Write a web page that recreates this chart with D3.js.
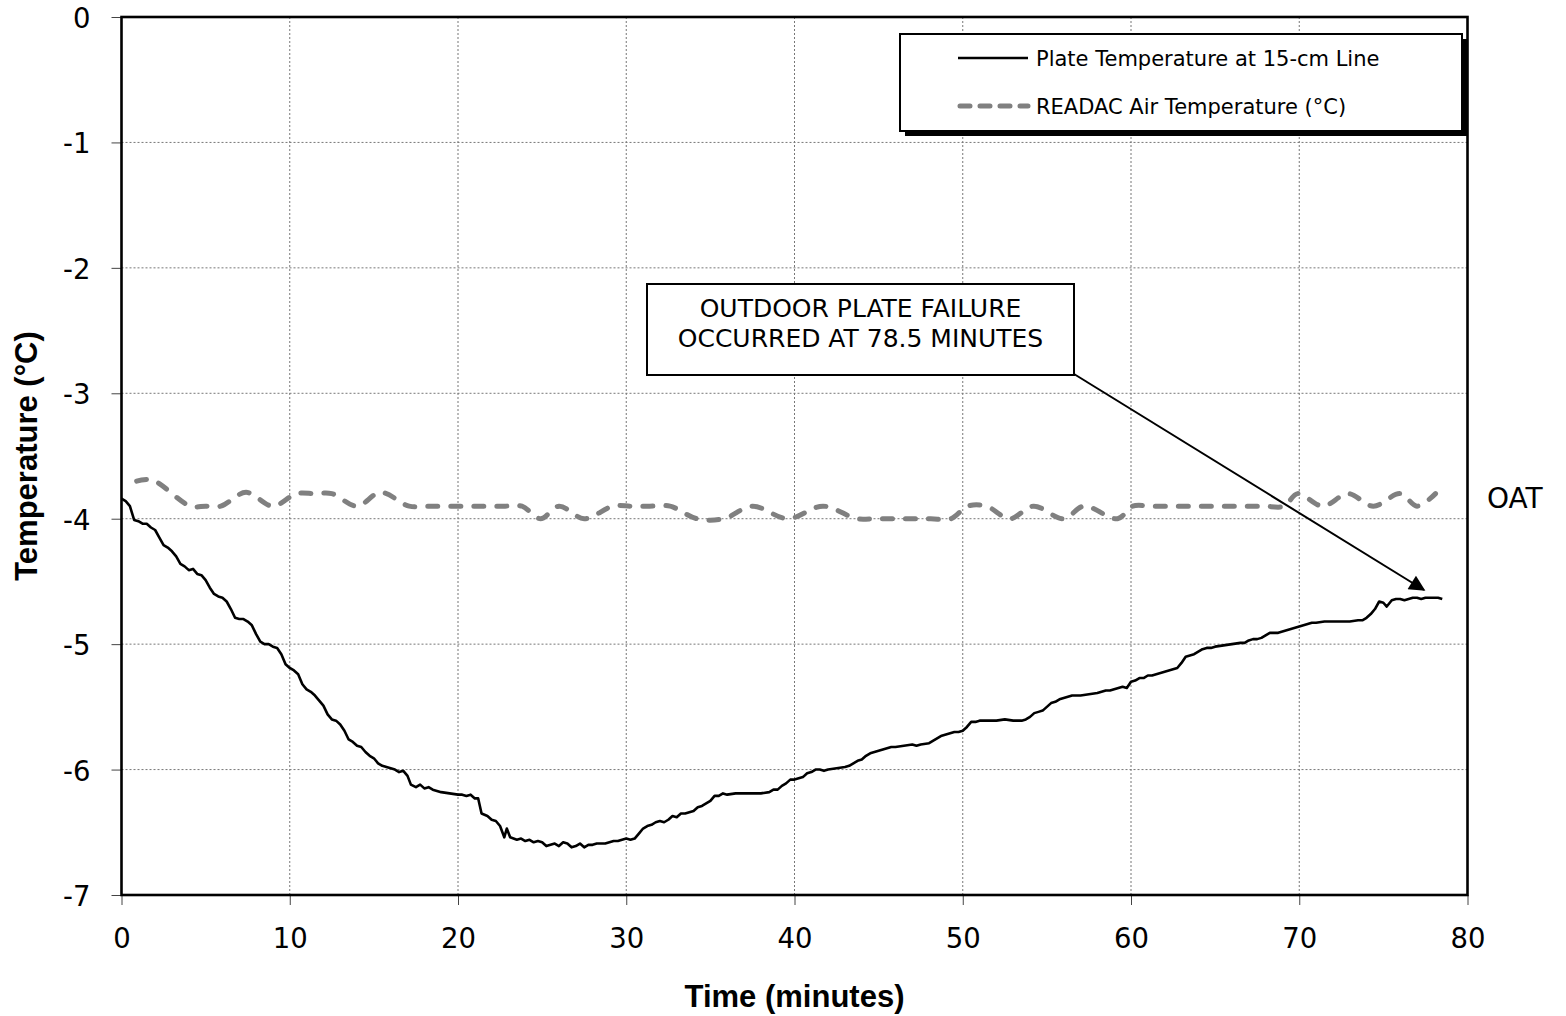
<!DOCTYPE html>
<html><head><meta charset="utf-8">
<script src="https://cdn.jsdelivr.net/npm/d3@7"></script>
<style>
html,body{margin:0;padding:0;background:#fff;}
svg{display:block;}
</style>
</head><body>
<svg id="chart" width="1566" height="1016"></svg>
<script>
// ---- data ----
const xTicks = [0, 10, 20, 30, 40, 50, 60, 70, 80];
const yTicks = [0, -1, -2, -3, -4, -5, -6, -7];
const seriesNames = ["Plate Temperature at 15-cm Line", "READAC Air Temperature (\u00B0C)"];
const annotationLines = ["OUTDOOR PLATE FAILURE", "OCCURRED AT 78.5 MINUTES"];
const sideLabel = "OAT";
const xTitle = "Time (minutes)";
const yTitle = "Temperature (\u00B0C)";

// plate temperature [minutes, degC]
const plateTemp = [
[0.0,-3.84],[0.25,-3.86],[0.5,-3.90],[0.75,-4.01],[1.0,-4.02],[1.25,-4.04],[1.5,-4.04],[1.75,-4.07],[2.0,-4.09],[2.25,-4.15],[2.5,-4.21],[2.75,-4.23],[3.0,-4.26],[3.25,-4.30],[3.5,-4.36],[3.75,-4.38],[4.0,-4.41],[4.25,-4.40],[4.5,-4.44],[4.75,-4.45],[5.0,-4.49],[5.25,-4.55],[5.5,-4.60],[5.75,-4.62],[6.0,-4.63],[6.25,-4.66],[6.5,-4.72],[6.75,-4.79],[7.0,-4.80],[7.25,-4.80],[7.5,-4.82],[7.75,-4.85],[8.0,-4.92],[8.25,-4.98],[8.5,-5.00],[8.75,-5.00],[9.0,-5.02],[9.25,-5.03],[9.5,-5.08],[9.75,-5.16],[10.0,-5.19],[10.25,-5.21],[10.5,-5.24],[10.75,-5.32],[11.0,-5.36],[11.25,-5.38],[11.5,-5.41],[11.75,-5.45],[12.0,-5.49],[12.25,-5.56],[12.5,-5.60],[12.75,-5.61],[13.0,-5.64],[13.25,-5.69],[13.5,-5.76],[13.75,-5.78],[14.0,-5.81],[14.25,-5.82],[14.5,-5.86],[14.75,-5.89],[15.0,-5.91],[15.25,-5.95],[15.5,-5.97],[15.75,-5.98],[16.0,-5.99],[16.25,-6.00],[16.5,-6.02],[16.75,-6.01],[17.0,-6.05],[17.2,-6.12],[17.5,-6.14],[17.75,-6.12],[18.0,-6.15],[18.25,-6.14],[18.5,-6.16],[18.75,-6.17],[19.0,-6.18],[19.5,-6.19],[20.0,-6.20],[20.25,-6.20],[20.5,-6.21],[20.75,-6.20],[21.0,-6.23],[21.2,-6.23],[21.4,-6.35],[21.75,-6.37],[22.0,-6.40],[22.25,-6.41],[22.5,-6.45],[22.75,-6.54],[22.9,-6.47],[23.1,-6.54],[23.5,-6.56],[23.75,-6.55],[24.0,-6.57],[24.25,-6.56],[24.5,-6.58],[24.75,-6.57],[25.0,-6.58],[25.25,-6.61],[25.5,-6.60],[25.75,-6.59],[26.0,-6.61],[26.25,-6.58],[26.5,-6.59],[26.75,-6.62],[27.0,-6.61],[27.25,-6.59],[27.5,-6.62],[27.75,-6.60],[28.0,-6.60],[28.25,-6.59],[28.5,-6.59],[28.75,-6.59],[29.0,-6.58],[29.25,-6.57],[29.5,-6.57],[29.75,-6.56],[30.0,-6.55],[30.25,-6.56],[30.5,-6.55],[30.75,-6.51],[31.0,-6.47],[31.25,-6.45],[31.5,-6.44],[31.75,-6.42],[32.0,-6.41],[32.25,-6.42],[32.5,-6.40],[32.75,-6.37],[33.0,-6.38],[33.25,-6.35],[33.5,-6.35],[33.75,-6.34],[34.0,-6.33],[34.25,-6.30],[34.5,-6.29],[34.75,-6.27],[35.0,-6.25],[35.25,-6.21],[35.5,-6.21],[35.75,-6.19],[36.0,-6.20],[36.5,-6.19],[37.0,-6.19],[37.5,-6.19],[38.0,-6.19],[38.5,-6.18],[38.75,-6.16],[39.0,-6.16],[39.25,-6.13],[39.5,-6.11],[39.75,-6.08],[40.0,-6.08],[40.25,-6.07],[40.5,-6.06],[40.75,-6.03],[41.0,-6.02],[41.25,-6.00],[41.5,-6.00],[41.75,-6.01],[42.0,-6.00],[42.5,-5.99],[43.0,-5.98],[43.25,-5.97],[43.5,-5.95],[43.75,-5.93],[44.0,-5.92],[44.25,-5.89],[44.5,-5.87],[44.75,-5.86],[45.0,-5.85],[45.25,-5.84],[45.5,-5.83],[45.75,-5.82],[46.0,-5.82],[46.5,-5.81],[47.0,-5.80],[47.25,-5.81],[47.5,-5.80],[48.0,-5.79],[48.25,-5.77],[48.5,-5.75],[48.75,-5.73],[49.0,-5.72],[49.25,-5.71],[49.5,-5.70],[49.75,-5.70],[50.0,-5.69],[50.25,-5.66],[50.5,-5.62],[50.75,-5.62],[51.0,-5.61],[51.5,-5.61],[52.0,-5.61],[52.5,-5.60],[53.0,-5.61],[53.5,-5.61],[53.75,-5.60],[54.0,-5.58],[54.25,-5.55],[54.5,-5.54],[54.75,-5.53],[55.0,-5.50],[55.25,-5.47],[55.5,-5.46],[55.75,-5.44],[56.0,-5.43],[56.25,-5.42],[56.5,-5.41],[56.75,-5.41],[57.0,-5.41],[57.5,-5.40],[58.0,-5.39],[58.5,-5.37],[58.75,-5.37],[59.0,-5.36],[59.25,-5.35],[59.5,-5.34],[59.75,-5.35],[60.0,-5.30],[60.25,-5.29],[60.5,-5.27],[60.75,-5.27],[61.0,-5.25],[61.25,-5.25],[61.5,-5.24],[62.0,-5.22],[62.25,-5.21],[62.5,-5.20],[62.75,-5.19],[63.0,-5.15],[63.25,-5.10],[63.5,-5.09],[63.75,-5.08],[64.0,-5.06],[64.25,-5.04],[64.5,-5.03],[64.75,-5.03],[65.0,-5.02],[65.5,-5.01],[66.0,-5.00],[66.5,-4.99],[66.75,-4.99],[67.0,-4.97],[67.25,-4.96],[67.5,-4.96],[67.75,-4.95],[68.0,-4.93],[68.25,-4.91],[68.5,-4.91],[68.75,-4.91],[69.0,-4.90],[69.25,-4.89],[69.5,-4.88],[69.75,-4.87],[70.0,-4.86],[70.25,-4.85],[70.5,-4.84],[70.75,-4.83],[71.0,-4.83],[71.5,-4.82],[72.0,-4.82],[72.5,-4.82],[73.0,-4.82],[73.5,-4.81],[73.75,-4.81],[74.0,-4.79],[74.25,-4.76],[74.5,-4.72],[74.75,-4.66],[75.0,-4.67],[75.2,-4.70],[75.5,-4.65],[75.75,-4.64],[76.0,-4.64],[76.25,-4.65],[76.5,-4.64],[76.75,-4.63],[77.0,-4.63],[77.25,-4.64],[77.5,-4.63],[77.75,-4.63],[78.0,-4.63],[78.25,-4.63],[78.5,-4.64]
];

// READAC air temperature [minutes, degC]
const airTemp = [
[0.9,-3.70],[1.8,-3.69],[4.1,-3.90],[5.0,-3.90],[5.9,-3.90],[7.4,-3.79],[9.0,-3.90],[10.4,-3.80],[11.5,-3.80],[12.5,-3.80],[14.0,-3.90],[15.4,-3.79],[17.1,-3.90],[18.2,-3.90],[19.4,-3.90],[20.6,-3.90],[21.7,-3.90],[22.8,-3.90],[23.8,-3.90],[24.9,-4.00],[26.0,-3.90],[27.5,-4.00],[29.2,-3.90],[30.3,-3.90],[31.4,-3.90],[32.6,-3.90],[34.2,-4.00],[35.8,-4.00],[37.5,-3.90],[39.6,-4.00],[41.7,-3.90],[43.7,-4.00],[44.8,-4.00],[45.9,-4.00],[47.0,-4.00],[48.1,-4.00],[49.3,-4.00],[50.3,-3.90],[51.4,-3.90],[52.8,-4.00],[54.2,-3.90],[56.0,-4.00],[57.2,-3.90],[59.2,-4.00],[60.1,-3.90],[61.2,-3.90],[62.3,-3.90],[63.4,-3.90],[64.5,-3.90],[65.6,-3.90],[66.7,-3.90],[67.9,-3.90],[69.1,-3.90],[69.9,-3.80],[71.4,-3.90],[72.9,-3.80],[74.4,-3.90],[76.0,-3.80],[77.0,-3.90],[78.1,-3.80]
];

// ---- layout ----
const svg = d3.select("#chart");
const L = 121.5, R = 1467.5, T = 17, B = 895;
const x = d3.scaleLinear().domain([0, 80]).range([L, R]);
const y = d3.scaleLinear().domain([-7, 0]).range([B, T]);
const regFont = "'DejaVu Sans', Verdana, sans-serif";
const boldFont = "'Liberation Sans', Arial, sans-serif";

// gridlines
svg.append("g").selectAll("line").data(xTicks.filter(d => d > 0 && d < 80)).join("line")
  .attr("x1", d => x(d)).attr("x2", d => x(d)).attr("y1", T).attr("y2", B)
  .attr("stroke", "#777").attr("stroke-width", 1).attr("stroke-dasharray", "2,2");
svg.append("g").selectAll("line").data(yTicks.filter(d => d < 0 && d > -7)).join("line")
  .attr("x1", L).attr("x2", R).attr("y1", d => y(d)).attr("y2", d => y(d))
  .attr("stroke", "#777").attr("stroke-width", 1).attr("stroke-dasharray", "2,2");

// axes
const xAxis = svg.append("g").attr("transform", `translate(0,${B})`)
  .call(d3.axisBottom(x).tickValues(xTicks).tickSize(10).tickPadding(23).tickFormat(d => String(d)));
const yAxis = svg.append("g").attr("transform", `translate(${L},0)`)
  .call(d3.axisLeft(y).tickValues(yTicks).tickSize(10).tickPadding(21).tickFormat(d => String(d)));
[xAxis, yAxis].forEach(g => {
  g.select(".domain").remove();
  g.selectAll(".tick line").attr("stroke", "#444").attr("stroke-width", 1);
  g.selectAll(".tick text").attr("font-family", regFont).attr("font-size", 27.5).attr("fill", "#000");
});
yAxis.selectAll(".tick text").attr("dy", "0.38em");

// series
const lineGen = d3.line().x(d => x(d[0])).y(d => y(d[1]));
svg.append("path").datum(airTemp)
  .attr("d", lineGen.curve(d3.curveCatmullRom.alpha(0.5)))
  .attr("fill", "none").attr("stroke", "#808080").attr("stroke-width", 5)
  .attr("stroke-linecap", "round").attr("stroke-dasharray", "10,13");
svg.append("path").datum(plateTemp)
  .attr("d", d3.line().x(d => x(d[0])).y(d => y(d[1])))
  .attr("fill", "none").attr("stroke", "#000").attr("stroke-width", 2.6)
  .attr("stroke-linejoin", "round");

// frame
svg.append("rect").attr("x", L).attr("y", T).attr("width", R - L).attr("height", B - T)
  .attr("fill", "none").attr("stroke", "#000").attr("stroke-width", 2.6);

// axis titles
svg.append("text").attr("x", x(40)).attr("y", 1007).attr("text-anchor", "middle")
  .attr("font-family", boldFont).attr("font-weight", "bold").attr("font-size", 31).text(xTitle);
svg.append("text").attr("transform", `translate(37,${(T + B) / 2}) rotate(-90)`).attr("text-anchor", "middle")
  .attr("font-family", boldFont).attr("font-weight", "bold").attr("font-size", 31).text(yTitle);

// OAT label
svg.append("text").attr("x", 1487).attr("y", y(-3.9) + 2).attr("font-family", regFont)
  .attr("font-size", 28).text(sideLabel);

// legend
const lg = svg.append("g");
lg.append("rect").attr("x", 905).attr("y", 39).attr("width", 562).attr("height", 97).attr("fill", "#000");
lg.append("rect").attr("x", 900).attr("y", 34).attr("width", 562).attr("height", 97)
  .attr("fill", "#fff").attr("stroke", "#000").attr("stroke-width", 2);
lg.append("line").attr("x1", 958).attr("x2", 1028).attr("y1", 58).attr("y2", 58)
  .attr("stroke", "#000").attr("stroke-width", 2.4);
lg.append("line").attr("x1", 960).attr("x2", 1028).attr("y1", 106).attr("y2", 106)
  .attr("stroke", "#808080").attr("stroke-width", 5).attr("stroke-linecap", "round").attr("stroke-dasharray", "10,10");
lg.selectAll("text").data(seriesNames).join("text")
  .attr("x", 1036).attr("y", (d, i) => 66 + i * 48)
  .attr("font-family", regFont).attr("font-size", 21).text(d => d);

// annotation
const defs = svg.append("defs");
defs.append("marker").attr("id", "tri").attr("viewBox", "0 0 10 10").attr("refX", 9).attr("refY", 5)
  .attr("markerWidth", 18).attr("markerHeight", 16).attr("markerUnits", "userSpaceOnUse").attr("orient", "auto")
  .append("path").attr("d", "M0,0L10,5L0,10Z").attr("fill", "#000");
svg.append("line").attr("x1", 1074).attr("y1", 374).attr("x2", 1424).attr("y2", 590)
  .attr("stroke", "#000").attr("stroke-width", 2).attr("marker-end", "url(#tri)");
svg.append("rect").attr("x", 647).attr("y", 284).attr("width", 427).attr("height", 91)
  .attr("fill", "#fff").attr("stroke", "#000").attr("stroke-width", 2);
svg.append("g").selectAll("text").data(annotationLines).join("text")
  .attr("x", 860.5).attr("y", (d, i) => 317 + i * 30).attr("text-anchor", "middle")
  .attr("font-family", regFont).attr("font-size", 25).text(d => d);
</script>
</body></html>
